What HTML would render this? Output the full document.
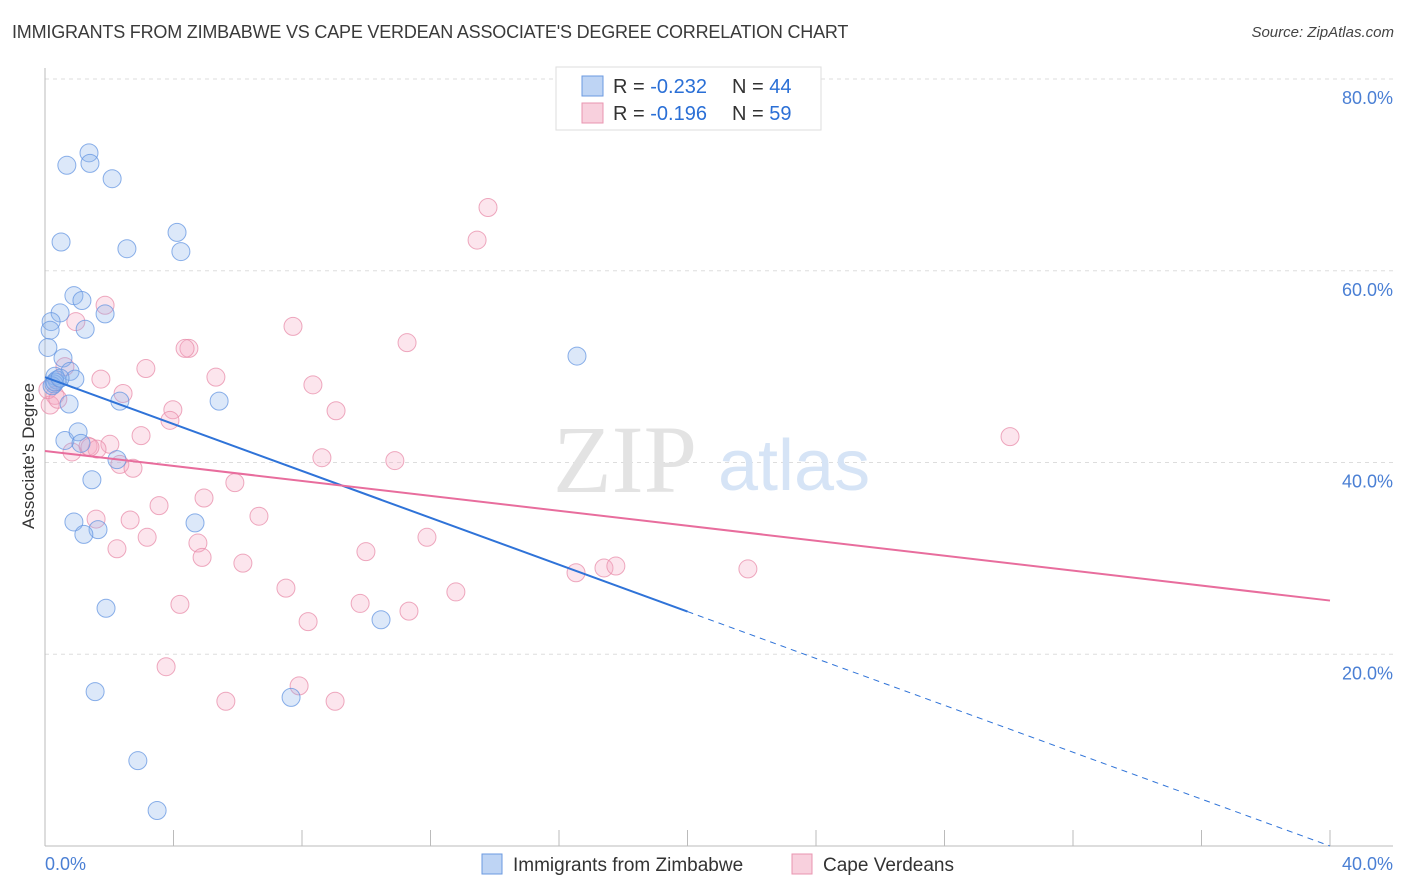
<!DOCTYPE html>
<html><head><meta charset="utf-8"><style>
body{margin:0;background:#fff;font-family:"Liberation Sans",sans-serif;}
#wrap{position:relative;width:1406px;height:892px;overflow:hidden;}
.title{position:absolute;left:12px;top:22px;font-size:18px;color:#3a3a3a;letter-spacing:-0.2px;}
.source{position:absolute;right:12px;top:24px;font-size:15px;color:#444;font-style:italic;}
</style></head><body>
<div id="wrap">
<div class="title">IMMIGRANTS FROM ZIMBABWE VS CAPE VERDEAN ASSOCIATE'S DEGREE CORRELATION CHART</div>
<div class="source">Source: ZipAtlas.com</div>
<svg id="chart" width="1406" height="892" style="position:absolute;left:0;top:0"></svg>
</div>
<script>
const blueX=[1.37,0.68,1.40,2.09,0.50,4.11,2.55,4.23,0.90,1.15,0.47,1.87,0.19,1.25,0.16,0.09,0.56,0.78,0.31,0.37,0.93,0.28,0.22,16.56,2.33,5.42,0.75,0.62,1.03,1.12,2.24,1.46,0.90,4.67,1.65,1.21,1.90,10.46,1.56,7.66,2.89,3.49,0.31,0.47];
const blueY=[72.3,71.0,71.2,69.6,63.0,64.0,62.3,62.0,57.4,56.9,55.6,55.5,54.7,53.9,53.8,52.0,50.9,49.5,49.0,48.6,48.7,48.2,48.0,51.1,46.4,46.4,46.1,42.3,43.2,42.0,40.3,38.2,33.8,33.7,33.0,32.5,24.8,23.6,16.1,15.5,8.9,3.7,48.4,48.8];
const pinkX=[13.79,13.45,1.87,0.96,7.72,4.48,4.36,11.27,3.14,0.62,5.32,1.74,8.34,2.43,0.31,3.98,9.06,3.89,2.99,2.02,1.34,0.84,1.62,8.62,10.89,2.33,2.74,5.91,4.95,3.55,1.59,6.66,2.65,3.18,11.89,4.76,2.24,9.99,4.89,6.16,16.53,17.40,17.77,21.88,7.50,12.79,4.20,9.81,11.33,8.19,3.77,7.91,5.63,9.03,30.04,0.16,0.09,0.40,1.40];
const pinkY=[66.6,63.2,56.4,54.7,54.2,51.9,51.9,52.5,49.8,50.0,48.9,48.7,48.1,47.2,47.0,45.5,45.4,44.4,42.8,41.9,41.7,41.1,41.4,40.5,40.2,39.8,39.4,37.9,36.3,35.5,34.1,34.4,34.0,32.2,32.2,31.6,31.0,30.7,30.1,29.5,28.5,29.0,29.2,28.9,26.9,26.5,25.2,25.3,24.5,23.4,18.7,16.7,15.1,15.1,42.7,46.0,47.6,46.6,41.6];
const yTicks=[20,40,60,80];
const yTickLabels=["20.0%","40.0%","60.0%","80.0%"];
const blueTrend=[48.9,0];
const blueSolidEnd=20;
const pinkTrend=[41.2,25.6];

const X0=45,X1=1330,YB=846,YT=79;
const sx=v=>X0+(v/40)*(X1-X0);
const sy=v=>YB-(v/80)*(YB-YT);
const svg=document.getElementById('chart');
const NS='http://www.w3.org/2000/svg';
function mk(tag,attrs,parent){const e=document.createElementNS(NS,tag);for(const k in attrs)e.setAttribute(k,attrs[k]);(parent||svg).appendChild(e);return e;}

yTicks.forEach((t,i)=>{
  const g=mk('line',{x1:X0,x2:1393,y1:sy(t),y2:sy(t),stroke:'#ddd','stroke-dasharray':'4,4'});
  
  
  const l=mk('text',{x:1393,y:sy(t)+25,'text-anchor':'end','font-size':18,fill:'#4a7fd4'});
  l.textContent=yTickLabels[i];
  
  
});
const ya=mk('line',{x1:X0,x2:X0,y1:68,y2:YB,stroke:'#bbb'});


const xa=mk('line',{x1:X0,x2:1393,y1:YB,y2:YB,stroke:'#bbb'});


for(let i=1;i<=10;i++){
  const tk=mk('line',{x1:sx(i*4),x2:sx(i*4),y1:830,y2:YB,stroke:'#bbb'});
  
  
}
const xl0=mk('text',{x:45,y:870,'font-size':18,fill:'#4a7fd4'});xl0.textContent='0.0%';


const xl1=mk('text',{x:1393,y:870,'font-size':18,fill:'#4a7fd4','text-anchor':'end'});xl1.textContent='40.0%';


const yt=mk('text',{x:34,y:456,'font-size':17,fill:'#333','text-anchor':'middle',transform:'rotate(-90 34 456)'});yt.textContent="Associate's Degree";


const wm=mk('text',{x:553,y:492,'font-size':96,fill:'#e3e3e3','font-family':'Liberation Serif, serif'});wm.textContent='ZIP';


const wm2=mk('text',{x:718,y:490,'font-size':72,fill:'#d6e4f6'});wm2.textContent='atlas';


pinkX.forEach((x,i)=>{
  const c=mk('circle',{cx:sx(x),cy:sy(pinkY[i]),r:9,fill:'rgba(245,170,195,0.3)',stroke:'rgba(232,140,170,0.75)','stroke-width':1});
  
  
});
blueX.forEach((x,i)=>{
  const c=mk('circle',{cx:sx(x),cy:sy(blueY[i]),r:9,fill:'rgba(140,180,235,0.3)',stroke:'rgba(100,150,225,0.75)','stroke-width':1});
  
  
});
const bAt=x=>blueTrend[0]+(blueTrend[1]-blueTrend[0])*x/40;
const bt=mk('line',{x1:sx(0),y1:sy(bAt(0)),x2:sx(blueSolidEnd),y2:sy(bAt(blueSolidEnd)),stroke:'#2f73d8','stroke-width':2});


const bd=mk('line',{x1:sx(blueSolidEnd),y1:sy(bAt(blueSolidEnd)),x2:sx(40),y2:sy(bAt(40)),stroke:'#2f73d8','stroke-width':1,'stroke-dasharray':'6,5'});


const pt=mk('line',{x1:sx(0),y1:sy(pinkTrend[0]),x2:sx(40),y2:sy(pinkTrend[1]),stroke:'#e86d9d','stroke-width':2});


const lb=mk('rect',{x:556,y:67,width:265,height:63,fill:'#fff',stroke:'#ddd'});


const rows=[{c:'rgba(110,160,230,0.45)',s:'#6b9ae0',r:'-0.232',n:'44',y:86},{c:'rgba(240,150,180,0.45)',s:'#e995b0',r:'-0.196',n:'59',y:113}];
rows.forEach((r,i)=>{
  const sw=mk('rect',{x:582,y:r.y-10,width:21,height:20,fill:r.c,stroke:r.s});
  
  
  const t=mk('text',{x:613,y:r.y+7,'font-size':20,fill:'#333'});
  t.innerHTML='R = <tspan fill="#2a6fd6">'+(i?' ':'')+r.r+'</tspan><tspan x="732">N = </tspan><tspan fill="#2a6fd6">'+(i?' ':'')+r.n+'</tspan>';
  
  
});
const bl=[{x:482,c:'rgba(110,160,230,0.45)',s:'#6b9ae0',t:'Immigrants from Zimbabwe',n:'legend-zimbabwe'},{x:792,c:'rgba(240,150,180,0.45)',s:'#e995b0',t:'Cape Verdeans',n:'legend-cape-verdeans'}];
bl.forEach(l=>{
  const sw=mk('rect',{x:l.x,y:854,width:20,height:20,fill:l.c,stroke:l.s});
  
  
  const t=mk('text',{x:l.x+31,y:871,'font-size':19,fill:'#333'});t.textContent=l.t;
  
  
});
</script>
</body></html>
